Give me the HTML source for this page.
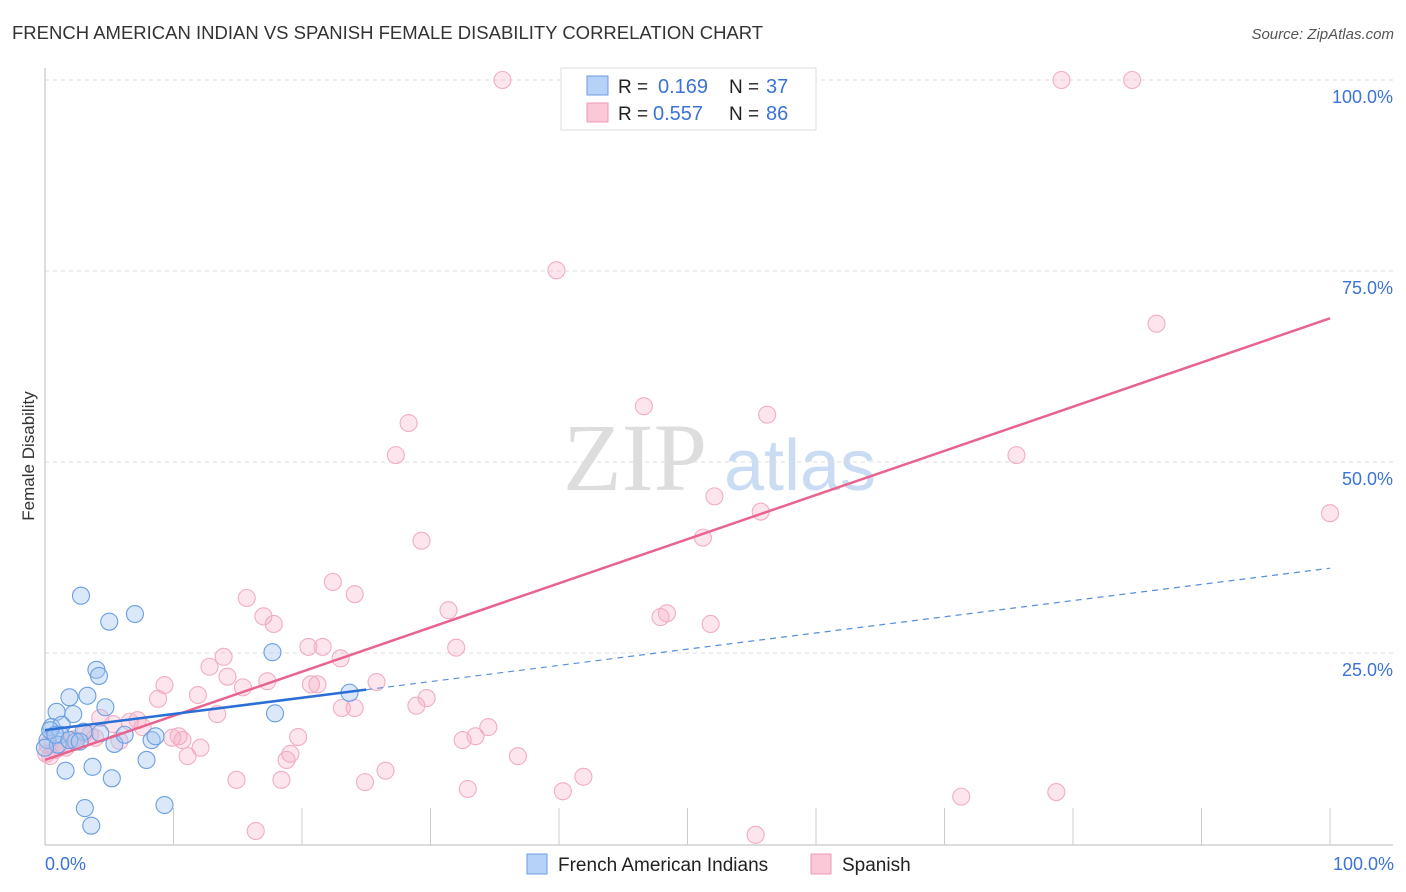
<!DOCTYPE html>
<html><head><meta charset="utf-8"><style>
body{margin:0;background:#fff;font-family:"Liberation Sans",sans-serif}
svg{display:block}
</style></head><body>
<svg id="chart" width="1406" height="892">
<text x="12" y="39" font-size="18.5" fill="#333">FRENCH AMERICAN INDIAN VS SPANISH FEMALE DISABILITY CORRELATION CHART</text>
<text x="1394" y="39" font-size="15" fill="#555" font-style="italic" text-anchor="end">Source: ZipAtlas.com</text>
<text x="635" y="490" font-size="96" fill="#ddd" font-family="Liberation Serif,serif" text-anchor="middle">ZIP</text>
<text x="800" y="490" font-size="72" fill="#c9dcf3" text-anchor="middle">atlas</text>
<text transform="translate(34,456) rotate(-90)" font-size="17" fill="#333" text-anchor="middle">Female Disability</text>
<g id="grid"></g><g id="pts"></g><g id="lines"></g>
<g>
<rect x="561" y="68" width="255" height="62" fill="#fff" stroke="#ddd"/>
<rect x="587" y="76" width="21" height="19" fill="#b7d2f7" stroke="#6a9be0"/>
<rect x="587" y="103" width="21" height="19" fill="#fac8d6" stroke="#ee9ab4"/>
<text x="618" y="93" font-size="19" fill="#222">R =</text>
<text x="658" y="93" font-size="20" fill="#3b73d6">0.169</text>
<text x="729" y="93" font-size="19" fill="#222">N =</text>
<text x="766" y="93" font-size="20" fill="#3b73d6">37</text>
<text x="618" y="120" font-size="19" fill="#222">R =</text>
<text x="653" y="120" font-size="20" fill="#3b73d6">0.557</text>
<text x="729" y="120" font-size="19" fill="#222">N =</text>
<text x="766" y="120" font-size="20" fill="#3b73d6">86</text>
</g>
<g>
<rect x="527" y="854" width="20" height="20" fill="#b7d2f7" stroke="#6a9be0"/>
<text x="558" y="871" font-size="19" fill="#222">French American Indians</text>
<rect x="811" y="854" width="20" height="20" fill="#fac8d6" stroke="#ee9ab4"/>
<text x="842" y="871" font-size="19" fill="#222">Spanish</text>
</g>
<text x="45" y="870" font-size="18" fill="#3b73d6">0.0%</text>
<text x="1394" y="870" font-size="18" fill="#3b73d6" text-anchor="end">100.0%</text>
</svg>
<script>
const yTicks=[100,75,50,25];
const yTickLabels=["100.0%","75.0%","50.0%","25.0%"];
const blueX=[2.8,7.0,5.0,4.0,4.2,1.9,3.3,2.2,4.7,0.9,0.5,1.3,1.2,3.0,5.4,8.3,8.6,17.7,23.7,17.9,7.9,1.6,3.7,5.2,3.1,3.6,9.3,0.2,0.4,1.0,2.4,0.8,0,1.9,2.7,6.2,4.3];
const blueY=[32.5,30.1,29.1,22.8,22.0,19.2,19.4,17.0,17.9,17.3,15.3,15.6,14.3,14.7,13.1,13.6,14.1,25.1,19.8,17.1,11.0,9.6,10.1,8.6,4.7,2.4,5.1,13.6,14.9,13.0,13.4,14.3,12.6,13.6,13.4,14.3,14.5];
const pinkX=[35.6,50.2,53.1,79.1,84.6,39.8,86.5,46.6,56.2,28.3,27.3,75.6,52.1,55.7,100,51.2,29.3,22.4,15.7,24.1,31.4,47.9,48.4,17.0,17.8,51.8,20.5,21.6,32.0,13.9,23.0,12.8,14.2,9.3,17.3,20.7,21.2,15.4,11.9,8.8,25.8,29.7,23.1,24.1,28.9,13.4,4.3,6.6,7.2,7.6,34.5,32.5,33.5,10.4,10.7,9.9,19.7,19.1,18.8,11.1,12.1,5.8,5.3,3.1,2.2,1.2,0.2,0.8,1.6,2.3,3.9,36.8,26.5,14.9,18.4,24.9,32.9,40.3,41.9,71.3,78.7,16.4,55.3,0.1,0.4,3.5];
const pinkY=[100,100,100,100,100,75.1,68.1,57.3,56.2,55.1,50.9,50.9,45.5,43.5,43.3,40.1,39.7,34.3,32.2,32.7,30.6,29.7,30.2,29.8,28.8,28.8,25.8,25.8,25.7,24.5,24.3,23.2,21.9,20.8,21.3,20.9,20.9,20.5,19.5,19.0,21.2,19.1,17.8,17.8,18.1,17.0,16.5,16.0,16.2,15.3,15.3,13.6,14.1,14.1,13.6,13.9,14.0,11.8,11.0,11.5,12.6,13.5,15.7,14.5,13.7,13.0,13.0,12.3,12.6,13.4,13.9,11.5,9.6,8.4,8.4,8.1,7.2,6.9,8.8,6.2,6.8,1.7,1.2,11.8,11.5,14.3];
const blueTrend=[14.9,0.212];
const pinkTrend=[11.0,0.578];
const X=v=>45+v*12.85, Y=v=>844-v*7.64;
const NS="http://www.w3.org/2000/svg";
function mk(tag,attrs,parent){const e=document.createElementNS(NS,tag);for(const k in attrs)e.setAttribute(k,attrs[k]);parent.appendChild(e);return e;}
const grid=document.getElementById('grid');
yTicks.forEach((t,i)=>{
  const l=mk('line',{x1:45,x2:1393,y1:Y(t),y2:Y(t),stroke:'#ddd','stroke-dasharray':'4,4'},grid);
  
  
  const tx=mk('text',{x:1393,y:Y(t)+23,'font-size':18,fill:'#3b73d6','text-anchor':'end'},grid);
  tx.textContent=yTickLabels[i];
  
  
});
const ax=mk('line',{x1:45,x2:45,y1:68,y2:845,stroke:'#bbb'},grid);


const bx=mk('line',{x1:45,x2:1393,y1:845,y2:845,stroke:'#bbb'},grid);


for(let i=1;i<=10;i++){const t=mk('line',{x1:X(i*10),x2:X(i*10),y1:808,y2:845,stroke:'#ccc'},grid);
  
  }
const pts=document.getElementById('pts');
pinkX.forEach((x,i)=>{const c=mk('circle',{cx:X(x),cy:Y(pinkY[i]),r:8.5,fill:'rgba(246,170,195,0.3)',stroke:'#f2adc2','stroke-width':1.1},pts);
  
  });
blueX.forEach((x,i)=>{const c=mk('circle',{cx:X(x),cy:Y(blueY[i]),r:8.5,fill:'rgba(165,198,240,0.4)',stroke:'#6a9fe2','stroke-width':1.1},pts);
  
  });
const ln=document.getElementById('lines');
const p=mk('line',{x1:X(0),y1:Y(pinkTrend[0]),x2:X(100),y2:Y(pinkTrend[0]+pinkTrend[1]*100),stroke:'#e8648e','stroke-width':2.5},ln);


const b=mk('line',{x1:X(0),y1:Y(blueTrend[0]),x2:X(25),y2:Y(blueTrend[0]+blueTrend[1]*25),stroke:'#2a6fd6','stroke-width':2.5},ln);


const bd=mk('line',{x1:X(25),y1:Y(blueTrend[0]+blueTrend[1]*25),x2:X(100),y2:Y(blueTrend[0]+blueTrend[1]*100),stroke:'#5b8fd8','stroke-width':1.2,'stroke-dasharray':'6,5'},ln);


</script>
</body></html>
